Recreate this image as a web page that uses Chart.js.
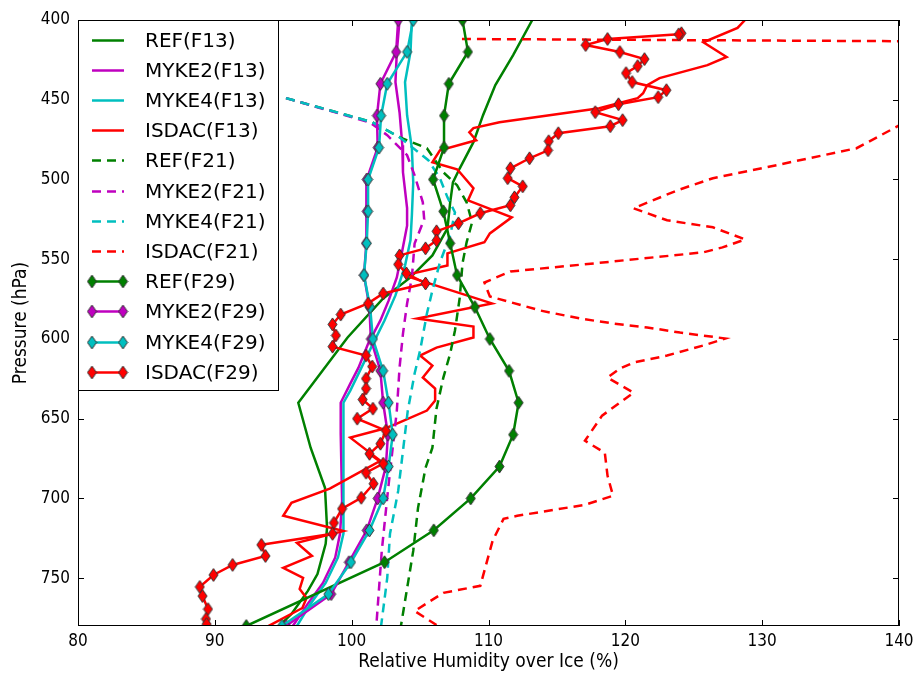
<!DOCTYPE html>
<html>
<head>
<meta charset="utf-8">
<script src="https://cdn.jsdelivr.net/npm/chart.js@4.4.1/dist/chart.umd.min.js"></script>
<style>
  html, body { margin: 0; padding: 0; background: #fff; }
  #wrap { width: 916px; height: 673px; }
</style>
</head>
<body>
<div id="wrap"><canvas id="rhChart" width="916" height="673"></canvas></div>
<script>
// x = relative humidity over ice (%), p = pressure (hPa)
const xTicks = [80, 90, 100, 110, 120, 130, 140];
const pTicks = [400, 450, 500, 550, 600, 650, 700, 750];

const refF13X = [113.2, 111.8, 110.5, 109.6, 108.9, 107.9, 107.4, 107.2, 107.0, 105.9, 104.3, 102.3, 99.7, 96.1, 97.0, 98.05, 98.2, 98.1, 97.5, 96.8, 95.6, 94.7];
const refF13P = [400, 422, 440.8, 459.7, 476.6, 493, 501.8, 514.3, 530.7, 547.6, 561.4, 574.6, 599.1, 640, 668.2, 693.3, 718.5, 728.5, 747.4, 758, 772.5, 780];

const myke2F13X = [103.5, 103.3, 103.2, 103.5, 103.7, 103.75, 104.05, 104.05, 103.7, 103.3, 102.7, 102.1, 101.2, 100.5, 99.9, 99.2, 99.2, 99.3, 99.15, 98.8, 97.9, 96.8, 95.7];
const myke2F13P = [400, 420, 439, 458, 478.5, 495.5, 518, 529, 544.5, 561.4, 576, 588.4, 603, 618, 628, 640, 659.4, 701.5, 722, 737, 753, 766, 780];

const myke4F13X = [104.4, 104.3, 103.9, 104.05, 104.4, 104.5, 104.4, 104.3, 103.9, 103.2, 102.4, 101.5, 100.6, 99.9, 99.4, 99.4, 99.4, 99.4, 99.0, 98.1, 97.0, 96.0];
const myke4F13P = [400, 420, 439, 459.7, 480.4, 501.8, 522.5, 538, 554, 572.7, 588.4, 604, 620, 632.4, 640, 659.4, 701.5, 722, 737, 753, 766, 780];

const isdacF13X = [128.75, 128.2, 125.7, 127.4, 126.0, 122.5, 121.6, 121.3, 120.9, 118.1, 110.8, 108.9, 108.6, 109.1, 106.45, 105.9, 107.7, 107.9, 108.9, 108.5, 111.7, 110.1, 109.7, 107.0, 107.0, 104.5, 104.3, 110.25, 104.8, 108.9, 108.9, 106.2, 105.0, 105.9, 105.2, 106.1, 106.1, 105.5, 103.3, 102.4, 99.9, 102.1, 98.4, 95.6, 95.0, 99.4, 96.0, 97.1, 95.0, 96.45, 96.2, 96.7, 96.4, 93.8];
const isdacF13P = [400, 405, 414, 423.2, 428.3, 436.4, 440.8, 445.9, 449, 455.3, 464.1, 467.8, 470.4, 475.4, 481.7, 489.2, 493.6, 495.5, 505.5, 513.1, 523.7, 533.8, 539.4, 546.3, 553.9, 558.9, 561.4, 577.7, 587.2, 592.2, 599.1, 605.4, 610.4, 616.7, 624.2, 631.1, 638.7, 644.9, 653.1, 656.2, 661.9, 676.4, 693.9, 702.8, 710.9, 720.4, 727.9, 736.1, 743.6, 749.9, 756.8, 762.4, 768.7, 780.6];

const refF21X = [95.2, 101.5, 103.5, 105.5, 106.7, 107.7, 108.4, 108.8, 108.4, 108.1, 107.9, 107.55, 107.2, 106.7, 106.2, 105.9, 105.4, 104.85, 104.5, 103.6];
const refF21P = [449, 464.1, 473.5, 480.4, 495.5, 503.6, 514.3, 526.9, 539.4, 552.6, 574, 594.7, 609.2, 624.2, 643.7, 668.2, 680.8, 705.9, 732.9, 780];

const myke2F21X = [95.2, 101.3, 102.6, 104.05, 104.6, 105.2, 105.3, 104.6, 104.4, 104.05, 103.75, 103.5, 103.3, 103.0, 102.65, 102.2, 101.8];
const myke2F21P = [449, 464.1, 472.2, 484.8, 497.4, 514.3, 525, 540.1, 561.4, 577.8, 596.6, 618, 645, 668.2, 695.2, 732.9, 780];

const myke4F21X = [95.2, 101.5, 103.5, 105.6, 106.45, 107.0, 107.55, 107.2, 106.45, 105.9, 105.5, 105.0, 104.6, 104.1, 103.75, 103.4, 102.8, 102.6, 102.15];
const myke4F21P = [449, 464.1, 473.5, 487.9, 499.2, 511.2, 520.6, 535, 552, 569.6, 584, 607.3, 621.7, 645, 670.1, 695.3, 722.2, 749.9, 780];

const isdacF21X = [108.06, 151.4, 136.9, 130.35, 126.4, 123.8, 120.6, 123.05, 126.4, 128.75, 127.1, 125.7, 116.9, 111.6, 109.7, 110.1, 113.8, 116.7, 119.1, 121.6, 124.0, 127.3, 125.7, 123.05, 120.6, 119.6, 118.7, 120.6, 118.3, 117.05, 118.5, 118.7, 119.1, 117.05, 112.1, 111.1, 110.3, 109.4, 106.7, 104.6, 106.2];
const isdacF21P = [411.9, 413.8, 480.4, 492.3, 499.2, 506.8, 518.1, 525.6, 530, 537.6, 542.6, 545.7, 553.3, 557.7, 564.6, 573.4, 582.2, 587.2, 590.3, 592.8, 596, 599.7, 604.1, 610.4, 614.8, 618.6, 624.2, 633.7, 648.1, 663.8, 671.4, 685.8, 698.3, 704, 710.9, 712.8, 726.6, 754.8, 759.2, 770.6, 779.4];

const f29P = [400, 420, 440, 460, 480, 500, 520, 540, 560, 580, 600, 620, 640, 660, 680, 700, 720, 740, 760, 780];
const refF29P = [400, 420, 440, 460, 480, 500, 520, 540, 560, 580, 600, 620, 640, 660, 680, 700, 720, 740, 780];
const refF29X = [108.1, 108.5, 107.1, 106.75, 106.75, 105.95, 106.7, 107.2, 107.7, 109.0, 110.1, 111.5, 112.2, 111.8, 110.8, 108.7, 106.0, 102.4, 92.3];
const myke2F29X = [103.4, 103.25, 102.1, 101.85, 101.9, 101.1, 101.1, 101.05, 100.9, 101.3, 101.4, 102.1, 102.3, 102.65, 102.5, 101.9, 101.1, 99.8, 98.5, 95.2];
const myke4F29X = [104.5, 104.05, 102.6, 102.15, 102.0, 101.2, 101.2, 101.1, 100.9, 101.35, 101.55, 102.3, 102.7, 103.0, 102.7, 102.3, 101.3, 99.95, 98.3, 94.9];

const isdacF29X = [124.1, 123.9, 118.7, 117.1, 119.6, 121.4, 120.9, 120.05, 120.5, 123.0, 122.4, 119.5, 117.8, 119.8, 118.9, 115.1, 114.4, 114.35, 113.0, 111.6, 111.4, 112.5, 111.9, 111.6, 109.4, 107.8, 106.2, 106.2, 105.4, 103.5, 103.4, 104.0, 105.4, 102.3, 101.2, 99.2, 98.6, 98.85, 98.6, 101.05, 101.5, 101.05, 101.05, 100.8, 101.55, 100.4, 102.5, 102.1, 101.3, 102.3, 101.05, 101.6, 100.7, 99.3, 98.7, 98.6, 93.4, 93.7, 91.3, 89.9, 88.9, 89.1, 89.5, 89.35, 89.4];
const isdacF29P = [408.3, 409, 411.9, 415.7, 420.1, 424.5, 428.9, 433.3, 438.9, 444.0, 448.4, 452.8, 457.8, 462.8, 466.6, 471.0, 476.0, 481.7, 486.7, 493.0, 499.2, 504.3, 511.2, 516.2, 521.2, 527.5, 532.5, 538.2, 543.2, 547.6, 553.2, 558.9, 565.2, 571.5, 577.7, 584.7, 590.9, 597.8, 604.8, 610.4, 617.3, 624.9, 631.1, 638.0, 643.7, 650.0, 657.5, 665.7, 672.0, 678.2, 683.9, 690.8, 699.6, 706.5, 715.3, 722.2, 729.1, 736.1, 741.7, 748.0, 755.5, 761.2, 769.4, 775.6, 778.8];

const GREEN = '#008000', MAGENTA = '#bf00bf', CYAN = '#00bfbf', RED = '#ff0000';
const AXIS_FONT = '"DejaVu Sans Condensed", "DejaVu Sans", sans-serif';
const LEGEND_FONT = '"DejaVu Sans", sans-serif';

// thin diamond marker like matplotlib 'd'
function diamond(color) {
  const c = document.createElement('canvas');
  c.width = 11; c.height = 15;
  const g = c.getContext('2d');
  g.beginPath();
  g.moveTo(5.5, 1); g.lineTo(10, 7.5); g.lineTo(5.5, 14); g.lineTo(1, 7.5);
  g.closePath();
  g.fillStyle = color; g.fill();
  g.strokeStyle = '#333'; g.lineWidth = 1; g.stroke();
  return c;
}

function series(label, xs, ps, color, kind) {
  return {
    label: label,
    data: xs.map((x, i) => ({ x: x, y: ps[i] })),
    borderColor: color,
    backgroundColor: color,
    borderWidth: 2.5,
    borderDash: kind === 'dashed' ? [9, 6] : [],
    showLine: true,
    fill: false,
    tension: 0,
    clip: 0,
    pointRadius: kind === 'marker' ? 5 : 0,
    pointStyle: kind === 'marker' ? diamond(color) : 'circle'
  };
}

const datasets = [
  series('REF(F13)', refF13X, refF13P, GREEN, 'solid'),
  series('MYKE2(F13)', myke2F13X, myke2F13P, MAGENTA, 'solid'),
  series('MYKE4(F13)', myke4F13X, myke4F13P, CYAN, 'solid'),
  series('ISDAC(F13)', isdacF13X, isdacF13P, RED, 'solid'),
  series('REF(F21)', refF21X, refF21P, GREEN, 'dashed'),
  series('MYKE2(F21)', myke2F21X, myke2F21P, MAGENTA, 'dashed'),
  series('MYKE4(F21)', myke4F21X, myke4F21P, CYAN, 'dashed'),
  series('ISDAC(F21)', isdacF21X, isdacF21P, RED, 'dashed'),
  series('REF(F29)', refF29X, refF29P, GREEN, 'marker'),
  series('MYKE2(F29)', myke2F29X, f29P, MAGENTA, 'marker'),
  series('MYKE4(F29)', myke4F29X, f29P, CYAN, 'marker'),
  series('ISDAC(F29)', isdacF29X, isdacF29P, RED, 'marker')
];
// matplotlib draws the first series at the bottom
datasets.forEach((d, i) => { d.order = datasets.length - i; });

// frame, inward ticks and boxed legend
const frameAndLegend = {
  id: 'frameAndLegend',
  afterDatasetsDraw(chart) {
    const ctx = chart.ctx;
    const a = chart.chartArea;
    const xs = chart.scales.x, ys = chart.scales.y;
    ctx.save();
    ctx.strokeStyle = '#000';
    ctx.lineWidth = 1;
    ctx.beginPath();
    xTicks.forEach(v => {
      const px = Math.round(xs.getPixelForValue(v)) + 0.5;
      ctx.moveTo(px, a.bottom); ctx.lineTo(px, a.bottom - 6);
      ctx.moveTo(px, a.top); ctx.lineTo(px, a.top + 6);
    });
    pTicks.forEach(v => {
      const py = Math.round(ys.getPixelForValue(v)) + 0.5;
      ctx.moveTo(a.left, py); ctx.lineTo(a.left + 6, py);
      ctx.moveTo(a.right, py); ctx.lineTo(a.right - 6, py);
    });
    ctx.stroke();
    ctx.strokeRect(a.left + 0.5, a.top + 0.5, a.right - a.left - 1, a.bottom - a.top - 1);

    // legend
    const lx = a.left, ly = a.top, lw = 200, lh = 370;
    ctx.fillStyle = '#fff';
    ctx.fillRect(lx, ly, lw, lh);
    ctx.strokeRect(lx + 0.5, ly + 0.5, lw, lh);
    ctx.font = '20px ' + LEGEND_FONT;
    ctx.textBaseline = 'middle';
    chart.data.datasets.forEach((ds, i) => {
      const y = Math.round(ly + 19.5 + i * 30.2) + 0.5;
      ctx.strokeStyle = ds.borderColor;
      ctx.lineWidth = ds.borderWidth;
      ctx.setLineDash(ds.borderDash);
      ctx.beginPath();
      ctx.moveTo(lx + 14, y); ctx.lineTo(lx + 46, y);
      ctx.stroke();
      ctx.setLineDash([]);
      if (ds.pointStyle instanceof HTMLCanvasElement) {
        const m = ds.pointStyle;
        ctx.drawImage(m, lx + 14 - m.width / 2, y - m.height / 2);
        ctx.drawImage(m, lx + 45 - m.width / 2, y - m.height / 2);
      }
      ctx.fillStyle = '#000';
      ctx.fillText(ds.label, lx + 67, y + 1);
    });
    ctx.restore();
  }
};

new Chart(document.getElementById('rhChart'), {
  type: 'scatter',
  data: { datasets: datasets },
  options: {
    responsive: false,
    animation: false,
    layout: { padding: { top: 20, right: 17, left: 0, bottom: 0 } },
    plugins: { legend: { display: false }, tooltip: { enabled: false } },
    scales: {
      x: {
        type: 'linear', min: 80, max: 140,
        afterBuildTicks: s => { s.ticks = xTicks.map(v => ({ value: v })); },
        afterFit: s => { s.height = 47; s.paddingLeft = 0; s.paddingRight = 0; },
        grid: { display: false, drawTicks: false },
        border: { display: false },
        ticks: { color: '#000', padding: 5, font: { family: AXIS_FONT, size: 17 } },
        title: { display: true, text: 'Relative Humidity over Ice (%)', color: '#000',
                 font: { family: AXIS_FONT, size: 19 }, padding: { top: 0, bottom: 0 } }
      },
      y: {
        type: 'linear', min: 400, max: 780, reverse: true,
        afterBuildTicks: s => { s.ticks = pTicks.map(v => ({ value: v })); },
        afterFit: s => { s.width = 78; s.paddingTop = 0; s.paddingBottom = 0; },
        grid: { display: false, drawTicks: false },
        border: { display: false },
        ticks: { color: '#000', padding: 8, font: { family: AXIS_FONT, size: 17 } },
        title: { display: true, text: 'Pressure (hPa)', color: '#000',
                 font: { family: AXIS_FONT, size: 19 }, padding: { top: 10, bottom: 0 } }
      }
    }
  },
  plugins: [frameAndLegend]
});
</script>
</body>
</html>
